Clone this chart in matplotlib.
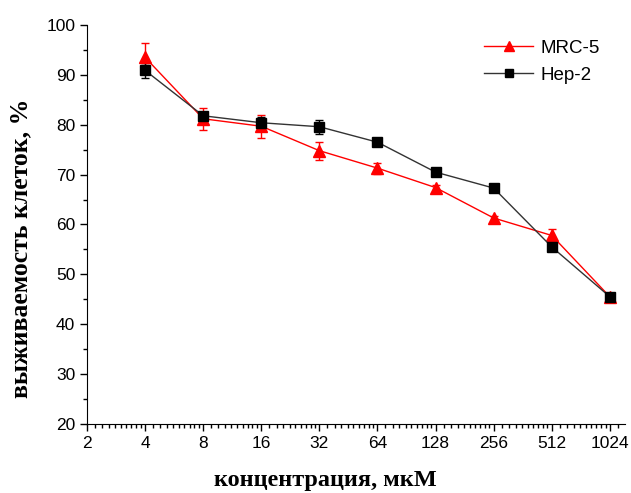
import matplotlib
matplotlib.use("Agg")
import matplotlib.pyplot as plt
import numpy as np
from matplotlib.ticker import FixedLocator, FixedFormatter

conc = [4, 8, 16, 32, 64, 128, 256, 512, 1024]

# MRC-5
mrc5 = [93.5, 81.2, 79.7, 74.8, 71.3, 67.4, 61.3, 57.8, 45.5]
mrc5_err = [2.8, 2.2, 2.3, 1.8, 1.1, 0.6, 0.5, 1.2, 0.5]

# Hep-2
hep2 = [90.9, 81.8, 80.4, 79.6, 76.5, 70.5, 67.3, 55.5, 45.5]
hep2_err = [1.5, 0.6, 1.2, 1.4, 0.4, 0.4, 0.3, 0.4, 0.3]

xticks = [2, 4, 8, 16, 32, 64, 128, 256, 512, 1024]
xticklabels = [str(v) for v in xticks]

fig = plt.figure(figsize=(6.31, 4.93), dpi=100)
ax = fig.add_axes([87 / 631, 1 - 424 / 493, 538 / 631, 399 / 493])

# error bars drawn apart so the legend shows only line + marker
ax.errorbar(conc, mrc5, yerr=mrc5_err, fmt='none', ecolor='red',
            capsize=3, elinewidth=1, zorder=2)
ax.errorbar(conc, hep2, yerr=hep2_err, fmt='none', ecolor='black',
            capsize=3, elinewidth=1, zorder=2)
ax.plot(conc, mrc5, color='red', marker='^', markersize=8,
        linewidth=1, label='MRC-5', zorder=3)
ax.plot(conc, hep2, color='#333333', marker='s', markersize=7,
        markerfacecolor='black', markeredgecolor='black',
        linewidth=1, label='Hep-2', zorder=3)

ax.set_xscale('log', base=2)
ax.set_xlim(2, 2 ** 10.26)
ax.set_ylim(20, 100)

ax.xaxis.set_major_locator(FixedLocator(xticks))
ax.xaxis.set_major_formatter(FixedFormatter(xticklabels))
minor = [2 ** k * (1 + j / 10) for k in range(1, 11) for j in range(1, 10)]
ax.xaxis.set_minor_locator(FixedLocator(minor))
ax.xaxis.set_minor_formatter(FixedFormatter([]))
ax.set_yticks(np.arange(20, 101, 10))
ax.set_yticks(np.arange(25, 100, 10), minor=True)

ax.spines['top'].set_visible(False)
ax.spines['right'].set_visible(False)
ax.tick_params(which='major', direction='out', length=5, width=1, labelsize=12.5)
ax.tick_params(which='minor', direction='out', length=3, width=1)
for lab in ax.get_xticklabels() + ax.get_yticklabels():
    lab.set_fontfamily('Liberation Sans')

ax.set_xlabel('концентрация, мкМ', fontsize=17.5, fontweight='bold',
              fontfamily='Liberation Serif')
ax.set_ylabel('выживаемость клеток, %', fontsize=18.5, fontweight='bold',
              fontfamily='Liberation Serif')
ax.xaxis.set_label_coords(0.444, -0.115)
ax.yaxis.set_label_coords(-0.102, 0.441)

leg = ax.legend(loc='upper right', bbox_to_anchor=(0.985, 1.005), frameon=False,
                prop={'family': 'Liberation Sans', 'size': 13.5},
                handlelength=2.6, handletextpad=0.4, labelspacing=0.5,
                markerscale=0.9)

fig.savefig('out.png', dpi=100)
